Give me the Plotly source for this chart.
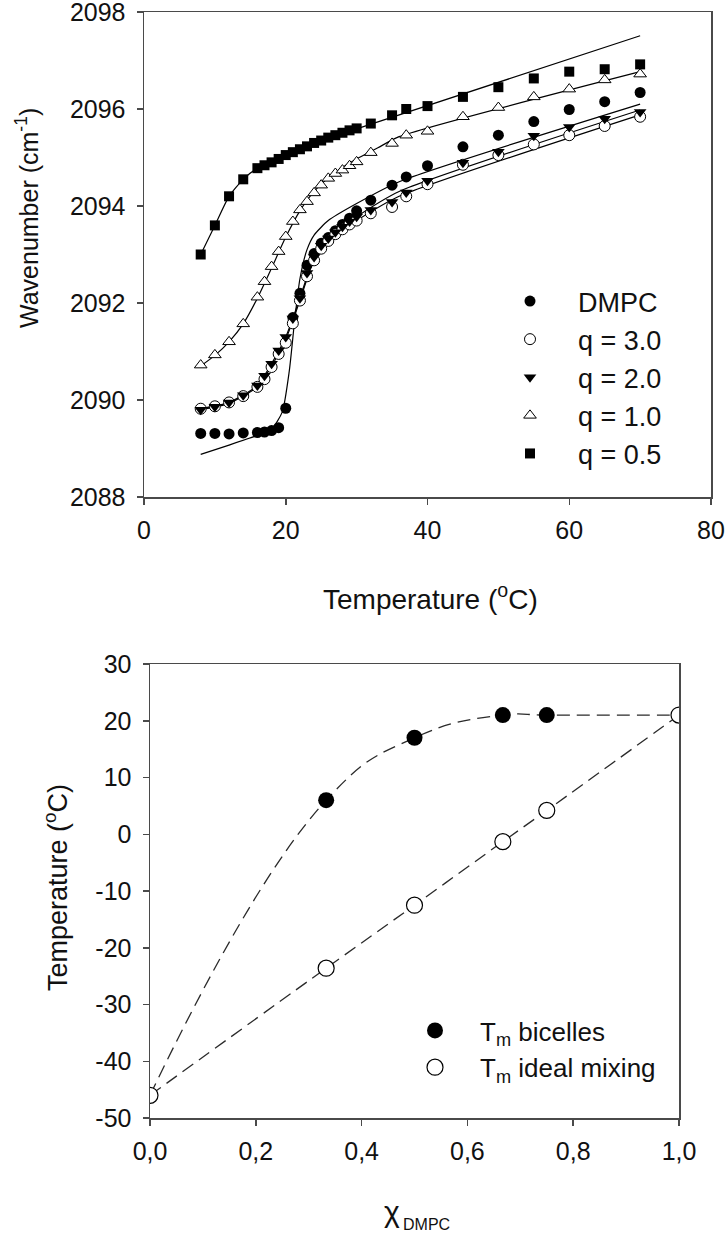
import plotly.graph_objects as go

# ---------------- Top panel data ----------------
temps = [8, 10, 12, 14, 16, 17, 18, 19, 20, 21, 22, 23, 24, 25, 26, 27, 28, 29, 30,
         32, 35, 37, 40, 45, 50, 55, 60, 65, 70]

dmpc = [2089.31, 2089.31, 2089.30, 2089.32, 2089.33, 2089.34, 2089.37, 2089.43, 2089.83,
        2091.70, 2092.20, 2092.78, 2093.02, 2093.23, 2093.35, 2093.49, 2093.62, 2093.75,
        2093.90, 2094.12, 2094.43, 2094.60, 2094.83, 2095.22, 2095.46, 2095.74, 2095.99,
        2096.15, 2096.34]
q30 = [2089.82, 2089.87, 2089.95, 2090.08, 2090.27, 2090.43, 2090.68, 2090.95, 2091.18,
       2091.58, 2092.05, 2092.55, 2092.88, 2093.12, 2093.28, 2093.42, 2093.52, 2093.62,
       2093.70, 2093.85, 2093.98, 2094.20, 2094.45, 2094.85, 2095.05, 2095.27, 2095.46,
       2095.65, 2095.84]
q20 = [2089.80, 2089.86, 2089.95, 2090.10, 2090.30, 2090.50, 2090.75, 2091.02, 2091.30,
       2091.68, 2092.10, 2092.62, 2092.95, 2093.18, 2093.33, 2093.46, 2093.57, 2093.68,
       2093.78, 2093.92, 2094.08, 2094.28, 2094.52, 2094.89, 2095.12, 2095.45, 2095.63,
       2095.80, 2095.94]
q10 = [2090.72, 2090.93, 2091.20, 2091.57, 2092.12, 2092.44, 2092.75, 2093.06, 2093.37,
       2093.68, 2093.92, 2094.09, 2094.27, 2094.43, 2094.57, 2094.67, 2094.74, 2094.83,
       2094.91, 2095.10, 2095.29, 2095.46, 2095.54, 2095.84, 2096.03, 2096.25, 2096.41,
       2096.60, 2096.72]
q05 = [2093.00, 2093.60, 2094.20, 2094.55, 2094.78, 2094.84, 2094.90, 2094.97, 2095.05,
       2095.11, 2095.17, 2095.23, 2095.30, 2095.35, 2095.41, 2095.46, 2095.51, 2095.56,
       2095.60, 2095.70, 2095.87, 2096.00, 2096.06, 2096.25, 2096.45, 2096.63, 2096.77,
       2096.82, 2096.92]

# fitted curves
fit_dmpc_t = [8, 12, 16, 18, 19.5, 20.5, 21.3, 22, 23, 24, 26, 30, 36, 70]
fit_dmpc_w = [2088.88, 2089.07, 2089.27, 2089.40, 2089.75, 2090.60, 2091.70, 2092.50,
              2093.10, 2093.40, 2093.70, 2094.05, 2094.50, 2096.10]
fit_q30_t = [8, 12, 16, 18, 20, 22, 24, 26, 30, 36, 70]
fit_q30_w = [2089.80, 2089.93, 2090.27, 2090.70, 2091.25, 2092.05, 2092.90, 2093.30,
             2093.70, 2094.20, 2095.88]
fit_q20_t = [8, 12, 16, 18, 20, 22, 24, 26, 30, 36, 70]
fit_q20_w = [2089.82, 2089.95, 2090.30, 2090.75, 2091.30, 2092.10, 2092.95, 2093.35,
             2093.78, 2094.30, 2095.98]
fit_q10_t = [8, 10, 12, 14, 16, 18, 20, 22, 24, 26, 28, 30, 33, 36, 70]
fit_q10_w = [2090.70, 2090.92, 2091.20, 2091.57, 2092.10, 2092.72, 2093.36, 2093.90,
             2094.30, 2094.58, 2094.80, 2094.97, 2095.20, 2095.43, 2096.77]
fit_q05_t = [8, 10, 12, 14, 16, 18, 20, 22, 24, 26, 28, 30, 70]
fit_q05_w = [2093.00, 2093.60, 2094.20, 2094.55, 2094.78, 2094.90, 2095.05, 2095.17,
             2095.30, 2095.41, 2095.50, 2095.59, 2097.51]

# ---------------- Bottom panel data ----------------
chi_dmpc = [0.0, 0.333, 0.5, 0.667, 0.75, 1.0]
tm_bicelles = [-46, 6, 17, 21, 21, 21]
tm_ideal = [-46, -23.6, -12.5, -1.3, 4.2, 21]

top_xticks = [0, 20, 40, 60, 80]
top_yticks = [2088, 2090, 2092, 2094, 2096, 2098]
bot_xticks = [0.0, 0.2, 0.4, 0.6, 0.8, 1.0]
bot_xticktext = ["0,0", "0,2", "0,4", "0,6", "0,8", "1,0"]
bot_yticks = [-50, -40, -30, -20, -10, 0, 10, 20, 30]
bot_yticktext = ["-50", "-40", "-30", "-20", "-10", "0", "10", "20", "30"]

FONT = "Liberation Sans, Arial, sans-serif"
W, H = 726, 1234

fig = go.Figure()

# fit lines (top)
for tx, wy in [(fit_dmpc_t, fit_dmpc_w), (fit_q30_t, fit_q30_w), (fit_q20_t, fit_q20_w),
               (fit_q10_t, fit_q10_w), (fit_q05_t, fit_q05_w)]:
    fig.add_trace(go.Scatter(x=tx, y=wy, mode="lines", line=dict(color="black", width=1.2,
                  shape="spline", smoothing=0.6), showlegend=False, hoverinfo="skip",
                  xaxis="x", yaxis="y"))

ms = 11
series = [
    ("DMPC", dmpc, dict(symbol="circle", color="black", size=ms, line=dict(width=0))),
    ("q = 3.0", q30, dict(symbol="circle", color="white", size=ms, line=dict(color="black", width=1))),
    ("q = 2.0", q20, dict(symbol="triangle-down", color="black", size=ms, line=dict(width=0))),
    ("q = 1.0", q10, dict(symbol="triangle-up", color="white", size=ms, line=dict(color="black", width=1))),
    ("q = 0.5", q05, dict(symbol="square", color="black", size=ms - 1, line=dict(width=0))),
]
for name, vals, mk in series:
    fig.add_trace(go.Scatter(x=temps, y=vals, mode="markers", name=name, marker=mk,
                             xaxis="x", yaxis="y", legend="legend"))

# bottom panel
fig.add_trace(go.Scatter(x=chi_dmpc, y=tm_bicelles, mode="lines",
                         line=dict(color="#2a2a2a", width=1.3, dash="13px,7px", shape="spline",
                                   smoothing=1.3),
                         showlegend=False, xaxis="x2", yaxis="y2"))
fig.add_trace(go.Scatter(x=chi_dmpc, y=tm_ideal, mode="lines",
                         line=dict(color="#2a2a2a", width=1.3, dash="13px,7px", shape="spline"),
                         showlegend=False, xaxis="x2", yaxis="y2"))
fig.add_trace(go.Scatter(x=chi_dmpc[1:-1], y=tm_bicelles[1:-1], mode="markers",
                         name="T<sub>m</sub> bicelles",
                         marker=dict(symbol="circle", color="black", size=16, line=dict(width=0)),
                         xaxis="x2", yaxis="y2", legend="legend2"))
fig.add_trace(go.Scatter(x=chi_dmpc, y=tm_ideal, mode="markers",
                         name="T<sub>m</sub> ideal mixing",
                         marker=dict(symbol="circle", color="white", size=16,
                                     line=dict(color="black", width=1.2)),
                         xaxis="x2", yaxis="y2", legend="legend2"))

def px_x(p):
    return p / W

def px_y(p):
    return 1 - p / H

axis_common = dict(showline=True, linecolor="#4a4a4a", linewidth=1.5, mirror=True,
                   ticks="outside", ticklen=6, tickcolor="#4a4a4a", tickwidth=1.5,
                   showgrid=False, zeroline=False, automargin=False,
                   ticklabeloverflow="allow",
                   tickfont=dict(family=FONT, size=25, color="#111"))

fig.update_layout(
    width=W, height=H, margin=dict(l=0, r=0, t=0, b=0, autoexpand=False),
    paper_bgcolor="white", plot_bgcolor="white",
    font=dict(family=FONT, color="#111"),
    xaxis=dict(domain=[px_x(144), px_x(711)], range=[0, 80], tickvals=top_xticks,
               anchor="y", ticklabelstandoff=4, **axis_common),
    yaxis=dict(domain=[px_y(497), px_y(12)], range=[2088, 2098], tickvals=top_yticks,
               anchor="x", ticklabelstandoff=6, **axis_common),
    xaxis2=dict(domain=[px_x(150), px_x(679)], range=[0, 1], tickvals=bot_xticks,
                ticktext=bot_xticktext, anchor="y2", ticklabelstandoff=4, **axis_common),
    yaxis2=dict(domain=[px_y(1118), px_y(664)], range=[-50, 30], tickvals=bot_yticks,
                ticktext=bot_yticktext, anchor="x2", ticklabelstandoff=6, **axis_common),
    legend=dict(x=px_x(482), y=px_y(277), xanchor="left", yanchor="top",
                font=dict(family=FONT, size=27, color="#111"), bgcolor="rgba(0,0,0,0)",
                itemwidth=86, tracegroupgap=0),
    legend2=dict(x=px_x(390), y=px_y(1007), xanchor="left", yanchor="top",
                 font=dict(family=FONT, size=26, color="#111"), bgcolor="rgba(0,0,0,0)",
                 itemwidth=80, tracegroupgap=0),
    showlegend=True,
)

annos = [
    dict(text="Temperature (<sup>o</sup>C)", x=px_x(430), y=px_y(597), xref="paper", yref="paper",
         showarrow=False, font=dict(family=FONT, size=28, color="#111"), xanchor="center", yanchor="middle"),
    dict(text="Wavenumber (cm<sup>-1</sup>)", x=px_x(27), y=px_y(218), xref="paper", yref="paper",
         showarrow=False, textangle=-90, font=dict(family=FONT, size=25, color="#111"),
         xanchor="center", yanchor="middle"),
    dict(text="Temperature (<sup>o</sup>C)", x=px_x(56), y=px_y(888), xref="paper", yref="paper",
         showarrow=False, textangle=-90, font=dict(family=FONT, size=27, color="#111"),
         xanchor="center", yanchor="middle"),
    dict(text="\u03c7", x=px_x(392), y=px_y(1211), xref="paper", yref="paper",
         showarrow=False, font=dict(family=FONT, size=30, color="#111"), xanchor="center", yanchor="middle"),
    dict(text="DMPC", x=px_x(401), y=px_y(1224), xref="paper", yref="paper",
         showarrow=False, font=dict(family=FONT, size=16, color="#111"), xanchor="left", yanchor="middle"),
]
fig.update_layout(annotations=annos)

fig.write_html("out.html", config={"displayModeBar": False, "staticPlot": True},
               post_script="document.body.style.margin='0';document.body.style.padding='0';"
                           "document.body.style.overflow='hidden';")
